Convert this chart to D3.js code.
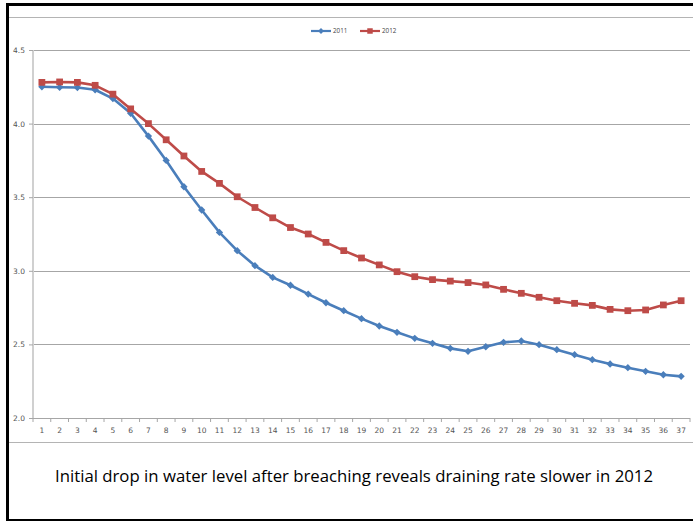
<!DOCTYPE html>
<html>
<head>
<meta charset="utf-8">
<script src="https://cdn.jsdelivr.net/npm/d3@7"></script>
<style>
  html, body { margin: 0; padding: 0; background: #fff; }
  svg { display: block; }
</style>
</head>
<body>
<svg id="chart" width="693" height="523"></svg>
<script>
const categories = d3.range(1, 38).map(String);
const series2011 = [4.25, 4.247, 4.245, 4.23, 4.17, 4.07, 3.915, 3.75, 3.571, 3.413, 3.261, 3.137, 3.035, 2.955, 2.902, 2.842, 2.783, 2.729, 2.675, 2.625, 2.582, 2.541, 2.507, 2.473, 2.453, 2.484, 2.514, 2.523, 2.498, 2.464, 2.43, 2.396, 2.367, 2.342, 2.317, 2.294, 2.283];
const series2012 = [4.28, 4.283, 4.28, 4.26, 4.20, 4.10, 4.00, 3.89, 3.78, 3.675, 3.594, 3.503, 3.43, 3.36, 3.294, 3.25, 3.193, 3.137, 3.087, 3.04, 2.994, 2.96, 2.94, 2.93, 2.92, 2.904, 2.874, 2.847, 2.82, 2.797, 2.779, 2.765, 2.738, 2.729, 2.734, 2.768, 2.797];
const seriesNames = ["2011", "2012"];
const yTicks = [2.0, 2.5, 3.0, 3.5, 4.0, 4.5];
const caption = "Initial drop in water level after breaching reveals draining rate slower in 2012";

const svg = d3.select("#chart");
const W = 693, H = 523;
const plot = {left: 33, right: 690, top: 50, bottom: 418};

svg.append("rect").attr("width", W).attr("height", H).attr("fill", "#fff");

// chart box lines
svg.append("line").attr("x1", 9).attr("x2", W).attr("y1", 17.5).attr("y2", 17.5)
  .attr("stroke", "#b4b4b4").attr("stroke-width", 1);
svg.append("line").attr("x1", 9).attr("x2", W).attr("y1", 442.5).attr("y2", 442.5)
  .attr("stroke", "#b4b4b4").attr("stroke-width", 1);

// outer black frame
svg.append("line").attr("x1", 7.5).attr("x2", 7.5).attr("y1", 3).attr("y2", 521)
  .attr("stroke", "#000").attr("stroke-width", 3);
svg.append("line").attr("x1", 6).attr("x2", W).attr("y1", 4.5).attr("y2", 4.5)
  .attr("stroke", "#000").attr("stroke-width", 3);
svg.append("line").attr("x1", 6).attr("x2", W).attr("y1", 520).attr("y2", 520)
  .attr("stroke", "#000").attr("stroke-width", 2);

const x = d3.scaleBand().domain(categories).range([plot.left, plot.right]).padding(0);
const y = d3.scaleLinear().domain([2, 4.5]).range([plot.bottom, plot.top]);
const cx = c => x(c) + x.bandwidth() / 2;

// gridlines
svg.append("g").selectAll("line").data(yTicks.filter(t => t > 2)).join("line")
  .attr("x1", plot.left).attr("x2", plot.right)
  .attr("y1", d => Math.round(y(d)) + 0.5).attr("y2", d => Math.round(y(d)) + 0.5)
  .attr("stroke", "#a6a6a6").attr("stroke-width", 1);

// y axis
const yAxis = d3.axisLeft(y).tickValues(yTicks).tickFormat(d3.format(".1f")).tickSize(4).tickPadding(4);
const gy = svg.append("g").attr("transform", `translate(${plot.left},0)`).call(yAxis);
gy.select(".domain").attr("stroke", "#d0d0d0").attr("stroke-width", 2).attr("d", `M0,${plot.top}V${plot.bottom}`);
gy.selectAll(".tick line").attr("stroke", "#a6a6a6");
gy.selectAll(".tick text").attr("fill", "#555").attr("font-family", "DejaVu Sans").attr("font-size", 7.5);

// x axis
const xAxis = d3.axisBottom(x).tickSize(0).tickPadding(10);
const gx = svg.append("g").attr("transform", `translate(0,${plot.bottom})`).call(xAxis);
gx.select(".domain").attr("stroke", "#a6a6a6").attr("stroke-width", 1).attr("d", `M${plot.left},0.5H${plot.right}`);
gx.selectAll(".tick text").attr("fill", "#555").attr("font-family", "DejaVu Sans").attr("font-size", 7.5);
// category boundary tick marks
gx.append("g").selectAll("line").data(categories).join("line")
  .attr("x1", d => x(d) + x.bandwidth()).attr("x2", d => x(d) + x.bandwidth())
  .attr("y1", 0).attr("y2", 4).attr("stroke", "#a6a6a6");
gx.append("line").attr("x1", plot.left).attr("x2", plot.left).attr("y1", 0).attr("y2", 4).attr("stroke", "#a6a6a6");

// series
const colors = {"2011": "#4a7ebb", "2012": "#be4b48"};
const data = [
  {name: seriesNames[0], values: series2011, symbol: d3.symbolDiamond2, size: 34},
  {name: seriesNames[1], values: series2012, symbol: d3.symbolSquare, size: 46}
];
const line = d3.line().x((d, i) => cx(categories[i])).y(d => y(d));

data.forEach(s => {
  svg.append("path").datum(s.values).attr("d", line)
    .attr("fill", "none").attr("stroke", colors[s.name]).attr("stroke-width", 2.6)
    .attr("stroke-linejoin", "round");
  svg.append("g").selectAll("path").data(s.values).join("path")
    .attr("d", d3.symbol().type(s.symbol).size(s.size))
    .attr("transform", (d, i) => `translate(${cx(categories[i])},${y(d)})`)
    .attr("fill", colors[s.name]);
});

// legend
const legend = svg.append("g").attr("transform", "translate(311,31)");
const legItems = [
  {name: seriesNames[0], x0: 0, symbol: d3.symbolDiamond2, size: 22},
  {name: seriesNames[1], x0: 49, symbol: d3.symbolSquare, size: 30}
];
legItems.forEach(it => {
  const g = legend.append("g").attr("transform", `translate(${it.x0},0)`);
  g.append("line").attr("x1", 0).attr("x2", 20).attr("y1", 0).attr("y2", 0)
    .attr("stroke", colors[it.name]).attr("stroke-width", 2.2);
  g.append("path").attr("d", d3.symbol().type(it.symbol).size(it.size))
    .attr("transform", "translate(10,0)").attr("fill", colors[it.name]);
  g.append("text").attr("x", 22).attr("y", 2.2).text(it.name)
    .attr("font-family", "Open Sans").attr("font-size", 6.3).attr("fill", "#444");
});

// caption
const cap = svg.append("text").attr("x", 354).attr("y", 482).attr("text-anchor", "middle")
  .attr("font-family", "Open Sans").attr("font-size", 16).attr("fill", "#000").text(caption);
const len = cap.node().getComputedTextLength();
cap.attr("font-size", 16 * 598 / len);
</script>
</body>
</html>
